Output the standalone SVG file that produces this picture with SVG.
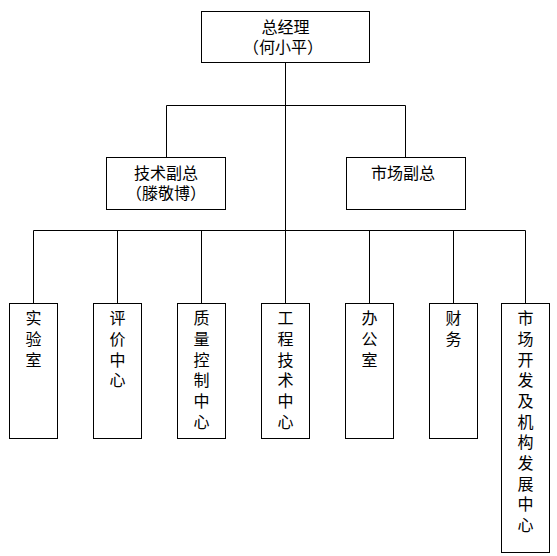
<svg xmlns="http://www.w3.org/2000/svg" width="557" height="556" viewBox="0 0 557 556">
<style>
rect{fill:#fff;stroke:#000;stroke-width:1}
.c path{fill:none;stroke:#000;stroke-width:1}
text{font-family:"Noto Sans CJK SC","Noto Sans CJK TC",sans-serif;font-size:16px;fill:#000;text-anchor:middle}
</style>
<rect x="0" y="0" width="557" height="556" style="stroke:none"/>
<g class="c" id="connectors">
<path d="M285.5 62V303"/>
<path d="M166.5 157V105.5H405.5V157"/>
<path d="M33.5 303V230.5H525.5V303"/>
<path d="M117.5 230.5V303M201.5 230.5V303M369.5 230.5V303M453.5 230.5V303"/>
</g>
<g id="n0"><rect x="201.5" y="11.5" width="168" height="51"/><text x="285.5" y="33">总经理</text><text x="283" y="53">（何小平）</text></g>
<g id="n1"><rect x="106.5" y="157.5" width="119" height="52"/><text x="166" y="179">技术副总</text><text x="166" y="199">（滕敬博）</text></g>
<g id="n2"><rect x="346.5" y="157.5" width="119" height="52"/><text x="403" y="179">市场副总</text></g>
<g id="n3"><rect x="9.5" y="303.5" width="48" height="135"/><text x="33.5" y="324">实</text><text x="33.5" y="345">验</text><text x="33.5" y="366">室</text></g>
<g id="n4"><rect x="93.5" y="303.5" width="48" height="135"/><text x="117.5" y="324">评</text><text x="117.5" y="345">价</text><text x="117.5" y="366">中</text><text x="117.5" y="386">心</text></g>
<g id="n5"><rect x="177.5" y="303.5" width="48" height="135"/><text x="201.5" y="324">质</text><text x="201.5" y="345">量</text><text x="201.5" y="366">控</text><text x="201.5" y="386">制</text><text x="201.5" y="407">中</text><text x="201.5" y="428">心</text></g>
<g id="n6"><rect x="261.5" y="303.5" width="48" height="135"/><text x="285.5" y="324">工</text><text x="285.5" y="345">程</text><text x="285.5" y="366">技</text><text x="285.5" y="386">术</text><text x="285.5" y="407">中</text><text x="285.5" y="428">心</text></g>
<g id="n7"><rect x="345.5" y="303.5" width="48" height="135"/><text x="369.5" y="324">办</text><text x="369.5" y="345">公</text><text x="369.5" y="366">室</text></g>
<g id="n8"><rect x="429.5" y="303.5" width="48" height="135"/><text x="453.5" y="324">财</text><text x="453.5" y="345">务</text></g>
<g id="n9"><rect x="501.5" y="303.5" width="48" height="249"/><text x="525.5" y="324">市</text><text x="525.5" y="345">场</text><text x="525.5" y="366">开</text><text x="525.5" y="386">发</text><text x="525.5" y="407">及</text><text x="525.5" y="428">机</text><text x="525.5" y="448">构</text><text x="525.5" y="469">发</text><text x="525.5" y="490">展</text><text x="525.5" y="510">中</text><text x="525.5" y="531">心</text></g>
</svg>
